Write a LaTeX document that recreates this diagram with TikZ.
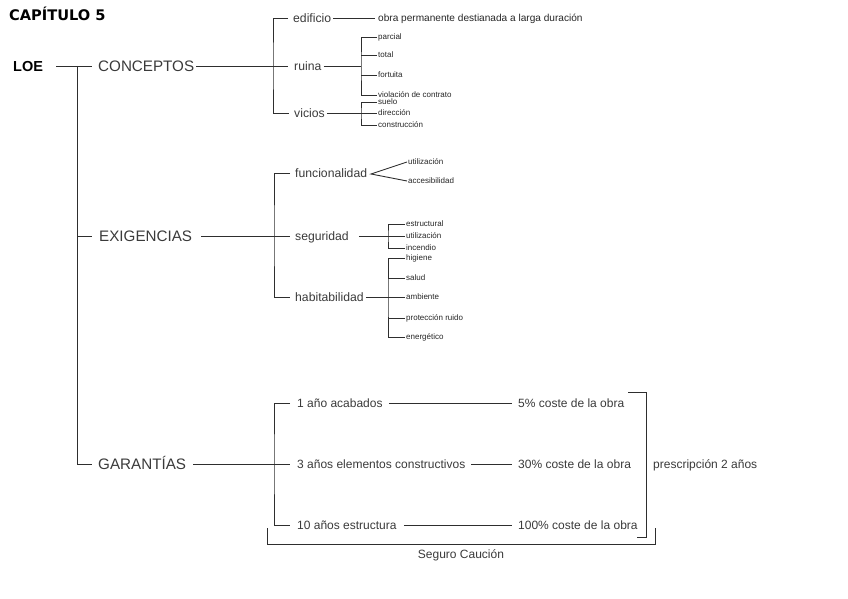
\documentclass[tikz,border=0pt]{standalone}
\usepackage{fontspec}
\setmainfont{Liberation Sans}
\newfontfamily\headfont{DejaVu Sans}
\definecolor{txt}{HTML}{3A3A3A}
\definecolor{ln}{HTML}{2E2E2E}
\begin{document}
\begin{tikzpicture}[x=1pt,y=-1pt,
  lbl/.style={inner sep=0pt, anchor=west, text=txt, text depth=0pt},
  head/.style={lbl, text=black, text height=10.6pt, font=\headfont\bfseries\fontsize{14.6}{16}\selectfont},
  root/.style={lbl, text=black, text height=10.4pt, font=\bfseries\fontsize{14.5}{16}\selectfont},
  big/.style={lbl, text height=10.9pt, font=\fontsize{15.2}{17}\selectfont},
  mid/.style={lbl, text height=8.8pt, font=\fontsize{12.2}{14}\selectfont},
  gar/.style={lbl, text height=8.6pt, font=\fontsize{12}{14}\selectfont},
  small/.style={lbl, text=black!85, text height=7.3pt, font=\fontsize{10.1}{11}\selectfont},
  tiny/.style={lbl, text=black!85, text height=5.8pt, font=\fontsize{8}{9}\selectfont},
  conn/.style={draw=ln, line width=0.9pt}]
\useasboundingbox (0,0) rectangle (848,599);

% header and root
\node[head] (cap) at (9,15) {CAPÍTULO 5};
\node[root] (loe) at (13,66) {LOE};
\node[big] (conc) at (98,66) {CONCEPTOS};
\node[big] (exig) at (99,236) {EXIGENCIAS};
\node[big] (gara) at (98,464) {GARANTÍAS};

\coordinate (t1) at (77,66);
\coordinate (t3) at (77,464);
\draw[conn, shorten <=13pt, shorten >=6pt] (loe.east) -- (conc.west);
\draw[conn] (t1) -- (t3) -- ([xshift=-6pt]gara.west);
\draw[conn] (t1 |- exig.west) -- ([xshift=-7pt]exig.west);

% CONCEPTOS
\node[mid] (edif) at (293,18) {edificio};
\node[mid] (ruina) at (294,66) {ruina};
\node[mid] (vic) at (294,113) {vicios};
\node[small] (obra) at (378,18) {obra permanente destianada a larga duración};
\coordinate (cj) at (273,66);
\draw[conn, shorten <=2pt, shorten >=6pt] (conc.east) -- (ruina.west);
\draw[conn] ([xshift=-5pt]edif.west) -| (cj) |- ([xshift=-5pt]vic.west);
\draw[conn, shorten <=2pt, shorten >=3pt] (edif.east) -- (obra.west);

\node[tiny] (parc) at (378,37) {parcial};
\node[tiny] (tot) at (378,55) {total};
\node[tiny] (fort) at (378,75) {fortuita};
\node[tiny] (viol) at (378,95) {violación de contrato};
\coordinate (rj) at (361,66);
\draw[conn, shorten <=2pt] (ruina.east) -- (rj);
\draw[conn] ([xshift=-1pt]parc.west) -| (rj) |- ([xshift=-1pt]viol.west);
\draw[conn] (rj |- tot.west) -- ([xshift=-1pt]tot.west);
\draw[conn] (rj |- fort.west) -- ([xshift=-1pt]fort.west);

\node[tiny] (suelo) at (378,102) {suelo};
\node[tiny] (dir) at (378,113) {dirección};
\node[tiny] (cons) at (378,125) {construcción};
\coordinate (vj) at (361,113);
\draw[conn, shorten <=2pt] (vic.east) -- (vj);
\draw[conn] ([xshift=-1pt]suelo.west) -| (vj) |- ([xshift=-1pt]cons.west);
\draw[conn] (vj) -- ([xshift=-1pt]dir.west);

% EXIGENCIAS
\node[mid] (func) at (295,173) {funcionalidad};
\node[mid] (seg) at (295,236) {seguridad};
\node[mid] (hab) at (295,297) {habitabilidad};
\coordinate (ej) at (274,236);
\draw[conn, shorten <=9pt, shorten >=5pt] (exig.east) -- (seg.west);
\draw[conn] ([xshift=-5pt]func.west) -| (ej) |- ([xshift=-5pt]hab.west);

\node[tiny] (util1) at (408,162) {utilización};
\node[tiny] (acc) at (408,181) {accesibilidad};
\coordinate (wv) at (371,174);
\draw[conn] ([xshift=-1pt]util1.west) -- (wv) -- ([xshift=-1pt]acc.west);

\node[tiny] (estr) at (406,224) {estructural};
\node[tiny] (util2) at (406,236) {utilización};
\node[tiny] (inc) at (406,248) {incendio};
\coordinate (sj) at (388,236);
\draw[conn, shorten <=10pt] (seg.east) -- (sj);
\draw[conn] ([xshift=-1pt]estr.west) -| (sj) |- ([xshift=-1pt]inc.west);
\draw[conn] (sj) -- ([xshift=-1pt]util2.west);

\node[tiny] (hig) at (406,258) {higiene};
\node[tiny] (sal) at (406,278) {salud};
\node[tiny] (amb) at (406,297) {ambiente};
\node[tiny] (prot) at (406,318) {protección ruido};
\node[tiny] (ene) at (406,337) {energético};
\coordinate (hj) at (388,297);
\draw[conn, shorten <=2pt] (hab.east) -- (hj);
\draw[conn] ([xshift=-1pt]hig.west) -| (hj) |- ([xshift=-1pt]ene.west);
\draw[conn] (hj |- sal.west) -- ([xshift=-1pt]sal.west);
\draw[conn] (hj) -- ([xshift=-1pt]amb.west);
\draw[conn] (hj |- prot.west) -- ([xshift=-1pt]prot.west);

% GARANTIAS
\node[gar] (a1) at (297,403) {1 año acabados};
\node[gar] (a3) at (297,464) {3 años elementos constructivos};
\node[gar] (a10) at (297,525) {10 años estructura};
\node[gar] (c1) at (518,403) {5\% coste de la obra};
\node[gar] (c3) at (518,464) {30\% coste de la obra};
\node[gar] (c10) at (518,525) {100\% coste de la obra};
\coordinate (gj) at (274,464);
\draw[conn, shorten <=7pt, shorten >=7pt] (gara.east) -- (a3.west);
\draw[conn] ([xshift=-7pt]a1.west) -| (gj) |- ([xshift=-7pt]a10.west);
\draw[conn, shorten <=6pt, shorten >=6pt] (a1.east) -- (c1.west);
\draw[conn, shorten <=6pt, shorten >=6pt] (a3.east) -- (c3.west);
\draw[conn, shorten <=7pt, shorten >=6pt] (a10.east) -- (c10.west);

\node[gar] (presc) at (653,464) {prescripción 2 años};
\draw[conn] (628,392) -- (646,392) -- (646,537) -- (637,537);

\node[gar, anchor=center] (seguro) at (461,554) {Seguro Caución};
\draw[conn] (267,528) -- (267,544) -- (655,544) -- (655,528);
\end{tikzpicture}
\end{document}
